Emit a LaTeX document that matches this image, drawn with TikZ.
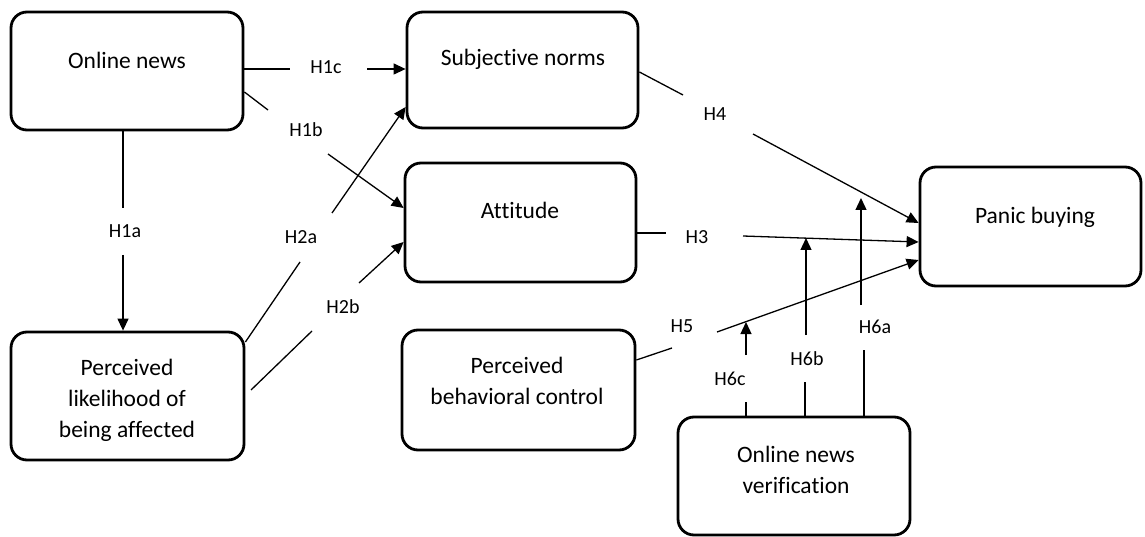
\documentclass[tikz,border=0pt]{standalone}
\usepackage{fontspec}
\setmainfont{Carlito}[Ligatures=CommonOff]
\usetikzlibrary{arrows.meta}
\begin{document}
\begin{tikzpicture}[x=1pt,y=-1pt,
  box/.style={draw=black,line width=2.8pt,rounded corners=16pt,inner sep=0pt},
  boxtext/.style={font=\fontsize{23.5}{31}\selectfont,align=center,inner sep=0pt,text height=0.72em,text depth=0.22em},
  boxtextm/.style={font=\fontsize{23.5}{31}\selectfont,align=center,inner sep=0pt},
  hyp/.style={font=\fontsize{20}{24}\selectfont,inner sep=0pt,text height=0.65em,text depth=0.05em},
  conn/.style={line width=1.3pt},
  arr/.style={conn,-{Triangle[length=12pt,width=11pt]}}]
\useasboundingbox (0,0) rectangle (1145,537);
% boxes
\node[box,minimum width=232pt,minimum height=118pt] (on) at (127,71) {};
\node[boxtext] (ont) at (127,66) {Online news};
\node[box,minimum width=231pt,minimum height=116pt] (sn) at (522.5,70) {};
\node[boxtext] (snt) at (523,63) {Subjective norms};
\node[box,minimum width=231pt,minimum height=119pt] (att) at (520.5,222.5) {};
\node[boxtext] (attt) at (520,216) {Attitude};
\node[box,minimum width=233pt,minimum height=128pt] (pl) at (127.5,396) {};
\node[boxtextm] (plt) at (127,400) {Perceived\\likelihood of\\being affected};
\node[box,minimum width=233pt,minimum height=120pt] (pbc) at (518.5,390) {};
\node[boxtextm] (pbct) at (517,381) {Perceived\\behavioral control};
\node[box,minimum width=232pt,minimum height=118pt] (ver) at (794,476) {};
\node[boxtextm] (vert) at (796,470) {Online news\\verification};
\node[box,minimum width=221pt,minimum height=119pt] (pb) at (1030.5,226.5) {};
\node[boxtext] (pbt) at (1035,221) {Panic buying};
% hypothesis labels
\node[hyp] (h1a) at (125,235) {H1a};
\node[hyp] (h1b) at (306,134) {H1b};
\node[hyp] (h1c) at (326,71) {H1c};
\node[hyp] (h2a) at (301,241) {H2a};
\node[hyp] (h2b) at (343,310) {H2b};
\node[hyp] (h3) at (697,241) {H3};
\node[hyp] (h4) at (715,118) {H4};
\node[hyp] (h5) at (682,329) {H5};
\node[hyp] (h6a) at (875,330) {H6a};
\node[hyp] (h6b) at (807,362) {H6b};
\node[hyp] (h6c) at (730,382) {H6c};
% gap ends
\coordinate (a1) at (123,208); \coordinate (a2) at (123,255);
\coordinate (b1) at (268,110); \coordinate (b2) at (328,154);
\coordinate (c1) at (290,69);  \coordinate (c2) at (367,69);
\coordinate (d1) at (300,262); \coordinate (d2) at (332,213);
\coordinate (e1) at (312,331); \coordinate (e2) at (359,283);
\coordinate (f1) at (666,233); \coordinate (f2) at (743,236);
\coordinate (g1) at (683,95);  \coordinate (g2) at (753,134);
\coordinate (k1) at (672,348); \coordinate (k2) at (717,332);
\coordinate (m1) at (864,350); \coordinate (m2) at (861,305);
\coordinate (n1) at (805,382); \coordinate (n2) at (806,335);
\coordinate (p1) at (746,402); \coordinate (p2) at (746,355);
% tips on lines
\coordinate (tH4) at (861,198);
\coordinate (tH3) at (806,238);
\coordinate (tH5) at (746,322);
% connectors
\draw[conn] (a1 |- on.south) -- (a1);
\draw[arr] (a2) -- (a2 |- pl.north);
\draw[conn] (on.east |- 0,92) -- (b1);
\draw[arr] (b2) -- (att.west |- 0,208);
\draw[conn] (on.east |- 0,69) -- (c1);
\draw[arr] (c2) -- (sn.west |- 0,69);
\draw[conn] (pl.east |- 0,342) -- (d1);
\draw[arr] (d2) -- (sn.west |- 0,107);
\draw[conn] (251,390) -- (e1);
\draw[arr] (e2) -- (att.west |- 0,242);
\draw[conn] (att.east |- 0,233) -- (f1);
\draw[arr] (f2) -- (pb.west |- 0,242);
\draw[conn] (sn.east |- 0,72) -- (g1);
\draw[arr] (g2) -- (pb.west |- 0,223);
\draw[conn] (pbc.east |- 0,360) -- (k1);
\draw[arr] (k2) -- (pb.west |- 0,260);
\draw[conn] (ver.north -| 864,0) -- (m1);
\draw[arr] (m2) -- (tH4);
\draw[conn] (ver.north -| 805,0) -- (n1);
\draw[arr] (n2) -- (tH3);
\draw[conn] (ver.north -| 746,0) -- (p1);
\draw[arr] (p2) -- (tH5);
\end{tikzpicture}
\end{document}
